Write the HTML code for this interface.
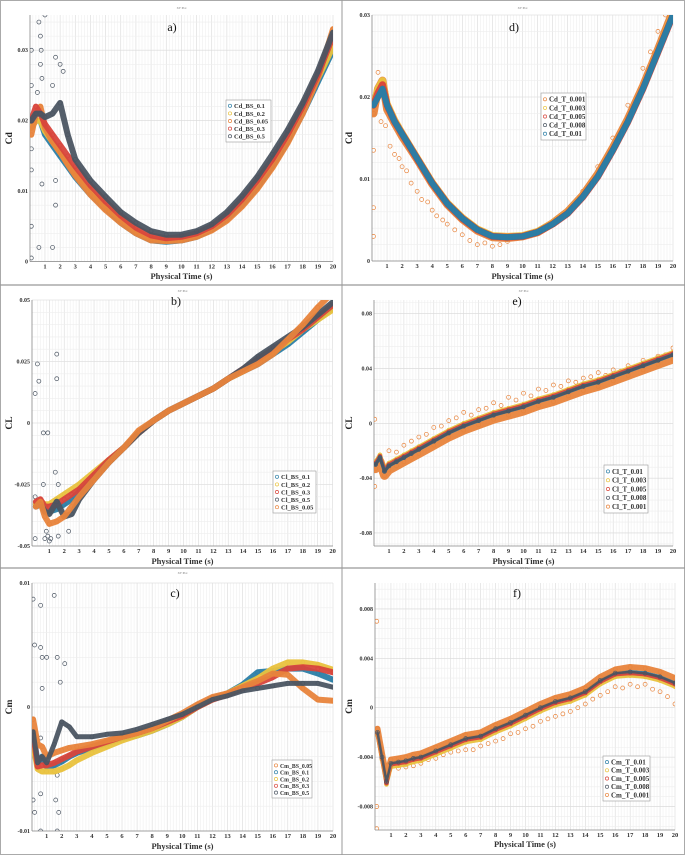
<!DOCTYPE html>
<html><head><meta charset="utf-8">
<style>
html,body{margin:0;padding:0;background:#fff;}
svg{display:block;font-family:"Liberation Serif",serif;}
</style></head>
<body>
<svg id="fig" width="685" height="855" viewBox="0 0 685 855" xmlns="http://www.w3.org/2000/svg"></svg>
<script>
// shared time samples (s)
const T = [0.1,0.4,0.7,1,1.5,2,2.5,3,4,5,6,7,8,9,10,11,12,13,14,15,16,17,18,19,20];
const xTicks = [1,2,3,4,5,6,7,8,9,10,11,12,13,14,15,16,17,18,19,20];

// Panel a: Cd vs BS
const aNames = ["Cd_BS_0.1","Cd_BS_0.2","Cd_BS_0.05","Cd_BS_0.3","Cd_BS_0.5"];
const aBlue   = [0.019,0.02,0.02,0.018,0.0165,0.015,0.0135,0.012,0.0095,0.0075,0.0055,0.004,0.003,0.0028,0.003,0.0035,0.0045,0.006,0.008,0.0105,0.0135,0.017,0.021,0.0255,0.030];
const aYellow = [0.019,0.02,0.02,0.0185,0.017,0.0155,0.014,0.0125,0.01,0.0078,0.006,0.0043,0.0033,0.003,0.0032,0.0038,0.0048,0.0065,0.0087,0.0113,0.0143,0.0178,0.0218,0.026,0.0305];
const aOrange = [0.018,0.021,0.022,0.019,0.017,0.0155,0.0138,0.0122,0.0095,0.0073,0.0055,0.004,0.003,0.0029,0.003,0.0035,0.0044,0.0058,0.0078,0.0103,0.0133,0.0168,0.021,0.026,0.033];
const aRed    = [0.02,0.022,0.021,0.0195,0.018,0.0165,0.015,0.0135,0.0108,0.0085,0.0065,0.0048,0.0037,0.0033,0.0035,0.004,0.005,0.0066,0.0088,0.0115,0.0145,0.018,0.022,0.0265,0.032];
const aGray   = [0.02,0.021,0.021,0.0205,0.021,0.0225,0.018,0.0145,0.0115,0.0092,0.007,0.0055,0.0043,0.0038,0.0038,0.0043,0.0053,0.007,0.0093,0.012,0.0152,0.0186,0.0225,0.027,0.0325];
const aOutX = [0.6,0.7,0.75,0.7,0.8,1.5,1.7,2,2.2,0.8,1.7,1.7,0.6,1.5,0.5,1,0.1,0.1,0.1,0.1,0.1,0.1];
const aOutY = [0.034,0.032,0.03,0.028,0.026,0.025,0.029,0.028,0.027,0.011,0.008,0.0115,0.002,0.002,0.024,0.035,0.03,0.025,0.013,0.005,0.0005,0.016];
const aYTicks = [0,0.01,0.02,0.03];
const aYLabels = ["0","0.01","0.02","0.03"];

// Panel b: CL vs BS
const bNames = ["Cl_BS_0.1","Cl_BS_0.2","Cl_BS_0.3","Cl_BS_0.5","Cl_BS_0.05"];
const bBlue   = [-0.033,-0.033,-0.035,-0.036,-0.035,-0.033,-0.031,-0.028,-0.022,-0.016,-0.01,-0.004,0.001,0.005,0.008,0.011,0.014,0.018,0.021,0.024,0.028,0.032,0.037,0.042,0.047];
const bYellow = [-0.033,-0.032,-0.033,-0.033,-0.031,-0.029,-0.027,-0.025,-0.02,-0.015,-0.01,-0.004,0.001,0.005,0.008,0.011,0.014,0.018,0.021,0.025,0.029,0.033,0.038,0.042,0.046];
const bRed    = [-0.032,-0.031,-0.034,-0.034,-0.033,-0.031,-0.029,-0.027,-0.021,-0.015,-0.01,-0.004,0.001,0.005,0.008,0.011,0.014,0.018,0.022,0.026,0.03,0.034,0.038,0.043,0.048];
const bGray   = [-0.034,-0.033,-0.036,-0.037,-0.032,-0.038,-0.037,-0.031,-0.023,-0.016,-0.01,-0.004,0.001,0.005,0.008,0.011,0.014,0.018,0.022,0.027,0.031,0.035,0.039,0.044,0.049];
const bOrange = [-0.034,-0.032,-0.038,-0.041,-0.04,-0.038,-0.034,-0.03,-0.023,-0.016,-0.01,-0.003,0.001,0.005,0.008,0.011,0.014,0.018,0.021,0.024,0.028,0.034,0.04,0.047,0.053];
const bOutX = [0.2,0.3,1.5,1.5,0.6,0.9,1.4,1.6,0.8,1,1.6,2.3,0.6,0.05,0.05,0.05,0.7,0.9,1.1];
const bOutY = [0.024,0.017,0.028,0.018,-0.004,-0.004,-0.02,-0.025,-0.044,-0.048,-0.046,-0.044,-0.025,0.012,-0.03,-0.047,-0.047,-0.046,-0.047];
const bYTicks = [-0.05,-0.025,0,0.025,0.05];
const bYLabels = ["-0.05","-0.025","0","0.025","0.05"];

// Panel c: Cm vs BS
const cNames = ["Cm_BS_0.05","Cm_BS_0.1","Cm_BS_0.2","Cm_BS_0.3","Cm_BS_0.5"];
const cOrange = [-0.001,-0.003,-0.0032,-0.004,-0.0037,-0.0035,-0.0033,-0.0032,-0.003,-0.0027,-0.0024,-0.0021,-0.0017,-0.0011,-0.0005,0.0002,0.0008,0.0011,0.0016,0.0021,0.0027,0.0026,0.0015,0.0006,0.0005];
const cBlue   = [-0.002,-0.0045,-0.004,-0.0048,-0.0047,-0.0044,-0.004,-0.0037,-0.0033,-0.0029,-0.0025,-0.0023,-0.0019,-0.0014,-0.0008,0,0.0007,0.0011,0.0018,0.0028,0.0029,0.0031,0.0031,0.0027,0.0022];
const cYellow = [-0.003,-0.005,-0.0052,-0.0052,-0.0052,-0.005,-0.0047,-0.0043,-0.0037,-0.0032,-0.0027,-0.0023,-0.0019,-0.0014,-0.0008,0,0.0006,0.0011,0.0017,0.0023,0.0031,0.0036,0.0036,0.0034,0.003];
const cRed    = [-0.002,-0.0048,-0.0047,-0.0047,-0.0045,-0.0042,-0.0039,-0.0036,-0.0032,-0.0028,-0.0024,-0.0021,-0.0017,-0.0012,-0.0007,0,0.0006,0.001,0.0015,0.0019,0.0024,0.0031,0.0032,0.0031,0.0028];
const cGray   = [-0.002,-0.0045,-0.004,-0.0045,-0.003,-0.0012,-0.0016,-0.0024,-0.0024,-0.0022,-0.0021,-0.0018,-0.0014,-0.001,-0.0006,0,0.0006,0.0009,0.0013,0.0015,0.0017,0.0019,0.0019,0.0019,0.0016];
const cOutX = [1.5,0.6,0.6,0.7,1,1.7,2.2,1.9,0.7,0.6,1.7,1.6,1.8,0.6,0.2,0.6,1.7,0.2,0.1,0.1,0.1];
const cOutY = [0.009,0.0082,0.0048,0.004,0.004,0.004,0.0035,0.002,0.0015,-0.0025,-0.0055,-0.0075,-0.0085,-0.007,-0.0085,-0.01,-0.01,0.005,0.0087,-0.0075,-0.001];
const cYTicks = [-0.01,0,0.01];
const cYLabels = ["-0.01","0","0.01"];

// Panel d: Cd vs T
const dNames = ["Cd_T_0.001","Cd_T_0.003","Cd_T_0.005","Cd_T_0.008","Cd_T_0.01"];
const dOrange = [0.018,0.021,0.022,0.0185,0.0168,0.0152,0.0138,0.0124,0.0094,0.0069,0.0051,0.0037,0.0029,0.0028,0.003,0.0035,0.0046,0.006,0.008,0.0106,0.0138,0.0173,0.0213,0.0258,0.0305];
const dYellow = [0.019,0.021,0.022,0.0192,0.0172,0.0156,0.0141,0.0126,0.0096,0.0071,0.0053,0.0039,0.0031,0.003,0.0031,0.0036,0.0046,0.0059,0.0079,0.0104,0.0136,0.0171,0.0211,0.0256,0.0302];
const dRed    = [0.019,0.0205,0.0215,0.019,0.017,0.0155,0.014,0.0125,0.0095,0.007,0.0052,0.0038,0.003,0.0029,0.003,0.0035,0.0045,0.0058,0.0078,0.0103,0.0135,0.017,0.021,0.0255,0.030];
const dGray   = [0.019,0.02,0.021,0.019,0.017,0.0155,0.014,0.0125,0.0095,0.007,0.0052,0.0038,0.003,0.0029,0.003,0.0035,0.0045,0.0058,0.0078,0.0103,0.0135,0.017,0.021,0.0255,0.030];
const dBlue   = [0.019,0.02,0.021,0.019,0.017,0.0155,0.014,0.0125,0.0095,0.007,0.0052,0.0038,0.003,0.0029,0.003,0.0035,0.0045,0.0058,0.0078,0.0103,0.0135,0.017,0.021,0.0255,0.030];
const dOutX = [0.4,0.6,0.9,1.2,1.5,1.8,2,2.3,2.6,3,3.3,3.7,4,4.3,4.7,5,5.5,6,6.5,7,7.5,8,8.5,9,14,15,16,17,18,18.5,19,19.5,0.1,0.1,0.1];
const dOutY = [0.023,0.017,0.0165,0.014,0.013,0.0125,0.0115,0.011,0.0095,0.0085,0.0075,0.0072,0.0062,0.0055,0.005,0.0045,0.0038,0.0032,0.0025,0.002,0.0022,0.0018,0.002,0.0024,0.0085,0.0115,0.015,0.019,0.0235,0.0255,0.028,0.03,0.003,0.0065,0.0135];
const dYTicks = [0,0.01,0.02,0.03];
const dYLabels = ["0","0.01","0.02","0.03"];

// Panel e: CL vs T
const eNames = ["Cl_T_0.01","Cl_T_0.003","Cl_T_0.005","Cl_T_0.008","Cl_T_0.001"];
const eOrange = [-0.033,-0.028,-0.038,-0.034,-0.031,-0.028,-0.025,-0.022,-0.016,-0.01,-0.005,-0.001,0.003,0.006,0.009,0.013,0.016,0.02,0.024,0.027,0.031,0.035,0.039,0.043,0.047];
const eBlue   = [-0.03,-0.025,-0.035,-0.031,-0.028,-0.025,-0.022,-0.019,-0.013,-0.007,-0.002,0.002,0.006,0.009,0.012,0.016,0.019,0.023,0.027,0.03,0.034,0.038,0.042,0.046,0.05];
const eYellow = [-0.028,-0.023,-0.033,-0.029,-0.026,-0.023,-0.02,-0.017,-0.011,-0.005,0,0.004,0.008,0.011,0.014,0.018,0.021,0.025,0.029,0.032,0.036,0.04,0.044,0.048,0.052];
const eRed    = [-0.029,-0.024,-0.034,-0.03,-0.027,-0.024,-0.021,-0.018,-0.012,-0.006,-0.001,0.003,0.007,0.01,0.013,0.017,0.02,0.024,0.028,0.031,0.035,0.039,0.043,0.047,0.051];
const eGray   = [-0.03,-0.025,-0.035,-0.031,-0.028,-0.025,-0.022,-0.019,-0.013,-0.007,-0.002,0.002,0.006,0.009,0.012,0.016,0.019,0.023,0.027,0.03,0.034,0.038,0.042,0.046,0.05];
const eOutX = [1,1.5,2,2.5,3,3.5,4,4.5,5,5.5,6,6.5,7,7.5,8,8.5,9,9.5,10,10.5,11,11.5,12,12.5,13,13.5,14,14.5,15,15.5,16,16.5,17,17.5,18,18.5,19,19.5,20,0.05,0.05];
const eOutY = [-0.02,-0.021,-0.016,-0.013,-0.01,-0.008,-0.003,-0.002,0.002,0.004,0.008,0.006,0.01,0.011,0.015,0.013,0.019,0.017,0.022,0.02,0.025,0.024,0.028,0.027,0.031,0.03,0.033,0.034,0.037,0.035,0.039,0.038,0.042,0.041,0.046,0.045,0.049,0.05,0.055,0.003,-0.046];
const eYTicks = [-0.08,-0.04,0,0.04,0.08];
const eYLabels = ["-0.08","-0.04","0","0.04","0.08"];

// Panel f: Cm vs T
const fNames = ["Cm_T_0.01","Cm_T_0.003","Cm_T_0.005","Cm_T_0.008","Cm_T_0.001"];
const fBlue   = [-0.002,-0.004,-0.006,-0.0045,-0.0044,-0.0043,-0.0041,-0.004,-0.0035,-0.003,-0.0025,-0.0023,-0.0017,-0.0012,-0.0006,0,0.0005,0.0008,0.0013,0.0022,0.0028,0.0029,0.0028,0.0025,0.002];
const fYellow = [-0.0022,-0.0042,-0.0062,-0.0048,-0.0047,-0.0046,-0.0044,-0.0043,-0.0038,-0.0033,-0.0028,-0.0026,-0.002,-0.0015,-0.0009,-0.0003,0.0002,0.0005,0.001,0.0019,0.0025,0.0026,0.0025,0.0022,0.0017];
const fRed    = [-0.0021,-0.0041,-0.0061,-0.0046,-0.0045,-0.0044,-0.0042,-0.0041,-0.0036,-0.0031,-0.0026,-0.0024,-0.0018,-0.0013,-0.0007,-0.0001,0.0004,0.0007,0.0012,0.0021,0.0027,0.0028,0.0027,0.0024,0.0019];
const fGray   = [-0.002,-0.004,-0.006,-0.0045,-0.0044,-0.0043,-0.0041,-0.004,-0.0035,-0.003,-0.0025,-0.0023,-0.0017,-0.0012,-0.0006,0,0.0005,0.0008,0.0013,0.0022,0.0028,0.0029,0.0028,0.0025,0.002];
const fOrange = [-0.0017,-0.0037,-0.0056,-0.0042,-0.0041,-0.004,-0.0038,-0.0037,-0.0032,-0.0027,-0.0022,-0.002,-0.0014,-0.0009,-0.0003,0.0003,0.0008,0.0011,0.0016,0.0025,0.0031,0.0033,0.0032,0.0029,0.0024];
const fOutX = [1.5,2,2.5,3,3.5,4,4.5,5,5.5,6,6.5,7,7.5,8,8.5,9,9.5,10,10.5,11,11.5,12,12.5,13,13.5,14,14.5,15,15.5,16,16.5,17,17.5,18,18.5,19,19.5,20,0.05,0.05,0.05];
const fOutY = [-0.0049,-0.0048,-0.0047,-0.0045,-0.0042,-0.0041,-0.0038,-0.0036,-0.0035,-0.0034,-0.0034,-0.0031,-0.0029,-0.0027,-0.0025,-0.0021,-0.002,-0.0017,-0.0015,-0.0011,-0.0009,-0.0007,-0.0005,-0.0003,0,0.0003,0.0007,0.001,0.0013,0.0017,0.0016,0.0019,0.0017,0.0019,0.0015,0.0013,0.0009,0.0003,0.007,-0.008,-0.0098];
const fYTicks = [-0.008,-0.004,0,0.004,0.008];
const fYLabels = ["-0.008","-0.004","0","0.004","0.008"];

const COL = {blue:"#2b7ea6", yellow:"#e9c23e", orange:"#e8843c", red:"#d8453c", gray:"#4b5562"};
const NS = "http://www.w3.org/2000/svg";
const svg = document.getElementById("fig");

function mk(tag, attrs, parent){
  const e = document.createElementNS(NS, tag);
  for (const k in attrs) e.setAttribute(k, attrs[k]);
  (parent||svg).appendChild(e);
  return e;
}

function drawPanel(p){
  const g = mk("g", {});
  
  
  const sx = v => p.x0 + (v - 0) * p.ux;
  const sy = v => p.yb - (v - p.ymin) / (p.ymax - p.ymin) * (p.yb - p.yt);
  const clipId = "clip-" + p.id;
  const cp = mk("clipPath", {id: clipId}, g);
  mk("rect", {x: p.left, y: p.yt, width: p.right - p.left, height: p.yb - p.yt}, cp);
  const grid = mk("g", {}, g);
  
  
  for (let t = 0.2; t < 20; t += 0.2) {
    const X = sx(t);
    if (X <= p.left) continue;
    const major = Math.abs(t - Math.round(t)) < 0.01;
    mk("line", {x1: X, x2: X, y1: p.yt, y2: p.yb, stroke: major ? "#d9d9d9" : "#efefef", "stroke-width": 0.6}, grid);
  }
  const yt = p.yTicks;
  const step = (yt[1] - yt[0]) / 5;
  for (let v = yt[0] - 5*step; v <= p.ymax + 1e-12; v += step) {
    if (v < p.ymin) continue;
    mk("line", {x1: p.left, x2: p.right, y1: sy(v), y2: sy(v), stroke: "#eeeeee", "stroke-width": 0.6}, grid);
  }
  yt.forEach(v => mk("line", {x1: p.left, x2: p.right, y1: sy(v), y2: sy(v), stroke: "#d9d9d9", "stroke-width": 0.6}, grid));
  const ax = mk("line", {x1: p.left, x2: p.left, y1: p.yt, y2: p.yb, stroke: "#888", "stroke-width": 0.8}, g);
  
  
  const bx = mk("line", {x1: p.left, x2: p.right, y1: p.yb, y2: p.yb, stroke: "#888", "stroke-width": 0.8}, g);
  
  
  const sg = mk("g", {"clip-path": "url(#" + clipId + ")"}, g);
  p.outX.forEach((xv, i) => {
    const c = mk("circle", {cx: sx(xv), cy: sy(p.outY[i]), r: 2, fill: "none", stroke: p.outColor, "stroke-width": 0.7}, sg);
    
    
  });
  p.series.forEach(s => {
    const pts = T.map((t, i) => sx(t).toFixed(1) + "," + sy(s.vals[i]).toFixed(1)).join(" ");
    const pl = mk("polyline", {points: pts, fill: "none", stroke: s.color, "stroke-width": s.w || 6, "stroke-linejoin": "round", "stroke-linecap": "round", opacity: 0.95}, sg);
    
    
    T.forEach((t, i) => {
      const c = mk("circle", {cx: sx(t), cy: sy(s.vals[i]), r: 2, fill: "none", stroke: s.color, "stroke-width": 0.7}, sg);
      
      
    });
  });
  xTicks.forEach(t => {
    const tx = mk("text", {x: sx(t), y: p.yb + 7, "font-size": 6.5, "font-weight": "bold", "text-anchor": "middle", fill: "#333"}, g);
    tx.textContent = t;
    
    
  });
  yt.forEach((v, i) => {
    const tx = mk("text", {x: p.left - 2, y: sy(v) + 2, "font-size": 6, "font-weight": "bold", "text-anchor": "end", fill: "#333"}, g);
    tx.textContent = p.yLabels[i];
    
    
  });
  const xt = mk("text", {x: (p.left + p.right) / 2, y: p.xTitleY, "font-size": 8.5, "font-weight": "bold", "text-anchor": "middle", fill: "#333"}, g);
  xt.textContent = "Physical Time (s)";
  
  
  const yl = mk("text", {x: p.yTitleX, y: (p.yt + p.yb) / 2, "font-size": 9.5, "font-weight": "bold", "text-anchor": "middle", fill: "#222", transform: "rotate(-90 " + p.yTitleX + " " + (p.yt + p.yb) / 2 + ")"}, g);
  yl.textContent = p.yTitle;
  
  
  const pt = mk("text", {x: (p.left + p.right) / 2, y: p.top + 9, "font-size": 3, "text-anchor": "middle", fill: "#777"}, g);
  pt.textContent = "XY Plot";
  
  
  const lt = mk("text", {x: p.labX, y: p.labY, "font-size": 12, "text-anchor": "middle", fill: "#111"}, g);
  lt.textContent = p.label;
  
  
  const lg = mk("g", {}, g);
  
  
  mk("rect", {x: p.lx, y: p.ly, width: p.lw, height: p.lh, fill: "#fff", stroke: "#999", "stroke-width": 0.6}, lg);
  const order = p.legendOrder;
  const rowH = (p.lh - 4) / order.length;
  order.forEach((s, i) => {
    const cy = p.ly + 2 + rowH * (i + 0.5);
    const c = mk("circle", {cx: p.lx + 4, cy: cy, r: 1.6, fill: "none", stroke: s.color, "stroke-width": 0.7}, lg);
    
    
    const tx = mk("text", {x: p.lx + 8, y: cy + 2.4, "font-size": p.lfs, "font-weight": "bold", fill: "#333"}, lg);
    tx.textContent = s.name;
    
    
  });
}

function S(name, color, vals, w){ return {name, color, vals, w}; }

const panels = [
 {id:"a", top:0, left:30, right:333, yt:15, yb:261.5, x0:29.8, ux:15.16, ymin:0, ymax:0.035, yTicks:aYTicks, yLabels:aYLabels, yTitle:"Cd", yTitleX:12, xTitleY:279, label:"a)", labX:172, labY:31,
  lx:226, ly:100, lw:45, lh:42, lfs:6.5, outX:aOutX, outY:aOutY, outColor:COL.gray,
  series:[S(aNames[0],COL.blue,aBlue),S(aNames[1],COL.yellow,aYellow),S(aNames[2],COL.orange,aOrange),S(aNames[3],COL.red,aRed),S(aNames[4],COL.gray,aGray)]},
 {id:"b", top:283, left:32, right:333, yt:300, yb:546, x0:34.4, ux:14.91, ymin:-0.05, ymax:0.05, yTicks:bYTicks, yLabels:bYLabels, yTitle:"CL", yTitleX:12, xTitleY:564, label:"b)", labX:176, labY:305,
  lx:273, ly:471, lw:43, lh:42, lfs:6.5, outX:bOutX, outY:bOutY, outColor:COL.gray,
  series:[S(bNames[0],COL.blue,bBlue),S(bNames[1],COL.yellow,bYellow),S(bNames[2],COL.red,bRed),S(bNames[3],COL.gray,bGray),S(bNames[4],COL.orange,bOrange)]},
 {id:"c", top:565, left:32, right:333, yt:583, yb:831, x0:31.6, ux:15.07, ymin:-0.01, ymax:0.01, yTicks:cYTicks, yLabels:cYLabels, yTitle:"Cm", yTitleX:12, xTitleY:849, label:"c)", labX:175, labY:597,
  lx:272, ly:760, lw:40, lh:38, lfs:5.8, outX:cOutX, outY:cOutY, outColor:COL.gray,
  series:[S(cNames[1],COL.blue,cBlue),S(cNames[2],COL.yellow,cYellow),S(cNames[3],COL.red,cRed),S(cNames[0],COL.orange,cOrange),S(cNames[4],COL.gray,cGray,5)]},
 {id:"d", top:0, left:372, right:673, yt:15, yb:261, x0:372, ux:15.05, ymin:0, ymax:0.03, yTicks:dYTicks, yLabels:dYLabels, yTitle:"Cd", yTitleX:352, xTitleY:279, label:"d)", labX:514, labY:31,
  lx:541, ly:93, lw:45, lh:47, lfs:7, outX:dOutX, outY:dOutY, outColor:COL.orange,
  series:[S(dNames[0],COL.orange,dOrange,8),S(dNames[1],COL.yellow,dYellow,7),S(dNames[2],COL.red,dRed,7),S(dNames[3],COL.gray,dGray,6),S(dNames[4],COL.blue,dBlue,6)]},
 {id:"e", top:283, left:374, right:673, yt:300, yb:546, x0:374, ux:14.95, ymin:-0.0895, ymax:0.09, yTicks:eYTicks, yLabels:eYLabels, yTitle:"CL", yTitleX:352, xTitleY:564, label:"e)", labX:517, labY:305,
  lx:604, ly:465, lw:44, lh:48, lfs:7, outX:eOutX, outY:eOutY, outColor:COL.orange,
  series:[S(eNames[4],COL.orange,eOrange,9),S(eNames[1],COL.yellow,eYellow,4),S(eNames[2],COL.red,eRed,4),S(eNames[0],COL.blue,eBlue,3.5),S(eNames[3],COL.gray,eGray,3)]},
 {id:"f", top:560, left:375, right:675, yt:583, yb:830, x0:376, ux:14.95, ymin:-0.0099, ymax:0.0101, yTicks:fYTicks, yLabels:fYLabels, yTitle:"Cm", yTitleX:352, xTitleY:847, label:"f)", labX:517, labY:597,
  lx:603, ly:756, lw:47, lh:45, lfs:7, outX:fOutX, outY:fOutY, outColor:COL.orange,
  series:[S(fNames[1],COL.yellow,fYellow,4),S(fNames[0],COL.blue,fBlue,4),S(fNames[2],COL.red,fRed,4),S(fNames[4],COL.orange,fOrange,6),S(fNames[3],COL.gray,fGray,2.5)]}
];
panels[0].legendOrder = panels[0].series;
panels[1].legendOrder = panels[1].series;
panels[2].legendOrder = [panels[2].series[3],panels[2].series[0],panels[2].series[1],panels[2].series[2],panels[2].series[4]];
panels[3].legendOrder = panels[3].series;
panels[4].legendOrder = [panels[4].series[3],panels[4].series[1],panels[4].series[2],panels[4].series[4],panels[4].series[0]];
panels[5].legendOrder = [panels[5].series[1],panels[5].series[0],panels[5].series[2],panels[5].series[4],panels[5].series[3]];

const frame = mk("g", {});


mk("rect", {x:0.5, y:0.5, width:684, height:854, fill:"none", stroke:"#aaa", "stroke-width":1}, frame);
mk("line", {x1:342, x2:342, y1:0, y2:855, stroke:"#999", "stroke-width":1}, frame);
mk("line", {x1:0, x2:342, y1:285, y2:285, stroke:"#999", "stroke-width":1.2}, frame);
mk("line", {x1:342, x2:685, y1:285, y2:285, stroke:"#999", "stroke-width":1.2}, frame);
mk("line", {x1:0, x2:342, y1:568, y2:568, stroke:"#999", "stroke-width":1.2}, frame);
mk("line", {x1:342, x2:685, y1:568, y2:568, stroke:"#999", "stroke-width":1.2}, frame);

panels.forEach(drawPanel);
</script>
</body></html>
